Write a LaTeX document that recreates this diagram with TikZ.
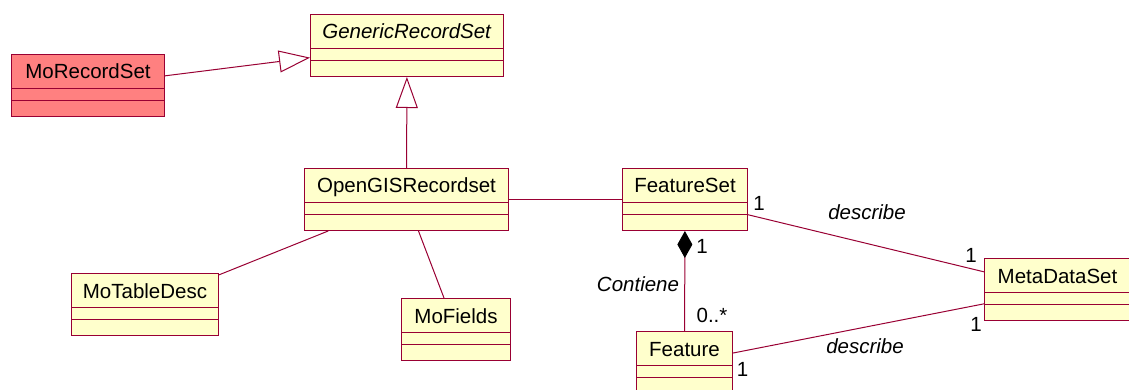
\documentclass[tikz,border=0pt]{standalone}
\usepackage{fontspec}
\setmainfont{Liberation Sans}
\usetikzlibrary{shapes.multipart,arrows.meta}

\definecolor{umlline}{RGB}{153,0,51}
\definecolor{umlfill}{RGB}{255,255,204}
\definecolor{umlred}{RGB}{255,128,128}

\tikzset{
  umlclass/.style={rectangle split, rectangle split parts=3, draw=umlline,
    fill=umlfill, line width=1pt, inner xsep=0pt, inner ysep=0pt,
    text width=#1, align=center, anchor=north west,
    font=\fontsize{20.5}{24}\selectfont},
  assoc/.style={umlline, line width=1pt},
  rolelabel/.style={inner sep=0pt, font=\fontsize{20.5}{24}\selectfont},
}
\newcommand{\namestrut}{\rule[-9pt]{0pt}{33pt}}
\newcommand{\emptyparts}{\nodepart{two}\rule{0pt}{11pt}\nodepart{three}\rule{0pt}{15pt}}

\begin{document}
\begin{tikzpicture}[x=1pt, y=-1pt] % one unit is one pixel of the reference

  \clip (0,0) rectangle (1129,390);

  % Classes
  \node[umlclass=193pt] (generic) at (310,14) {\namestrut\textit{GenericRecordSet}\emptyparts};
  \node[umlclass=153pt, fill=umlred] (morecordset) at (11,54) {\namestrut MoRecordSet\emptyparts};
  \node[umlclass=204pt] (opengis) at (304,168) {\namestrut OpenGISRecordset\emptyparts};
  \node[umlclass=125pt] (featureset) at (622,168) {\namestrut FeatureSet\emptyparts};
  \node[umlclass=147pt] (motabledesc) at (71,273) {\namestrut MoTableDesc\emptyparts};
  \node[umlclass=109pt] (mofields) at (401,298) {\namestrut MoFields\emptyparts};
  \node[umlclass=146pt] (metadataset) at (984,258) {\namestrut MetaDataSet\emptyparts};
  \node[umlclass=96pt] (feature) at (636,331) {\namestrut Feature\emptyparts};

  % Generalizations
  \draw[assoc, -{Triangle[length=31pt, width=22pt, fill=white]}] (morecordset) -- (generic);
  \draw[assoc, -{Triangle[length=31pt, width=22pt, fill=white]}] (opengis) -- (generic);

  % Associations
  \draw[assoc] (opengis) -- (featureset);
  \draw[assoc] (opengis) -- (motabledesc);
  \draw[assoc] (opengis) -- (mofields);
  \draw[assoc] (featureset) -- (metadataset);
  \draw[assoc] (feature) -- (metadataset);

  % Composition
  \draw[assoc, {Diamond[length=27pt, width=15pt, black]}-] (featureset) -- (feature);

  % Role names and multiplicities
  \node[rolelabel] (fsmult) at (759,203) {1};
  \node[rolelabel] (descupper) at (867,212) {\itshape describe};
  \node[rolelabel] (mdmultup) at (971,255.5) {1};
  \node[rolelabel] (compmult) at (702,246) {1};
  \node[rolelabel] (contiene) at (638,284.5) {\itshape Contiene};
  \node[rolelabel] (featmany) at (712,315) {0..*};
  \node[rolelabel] (mdmultlow) at (976,324.5) {1};
  \node[rolelabel] (desclower) at (865,346) {\itshape describe};
  \node[rolelabel] (featmult) at (742.5,369.5) {1};
\end{tikzpicture}
\end{document}
